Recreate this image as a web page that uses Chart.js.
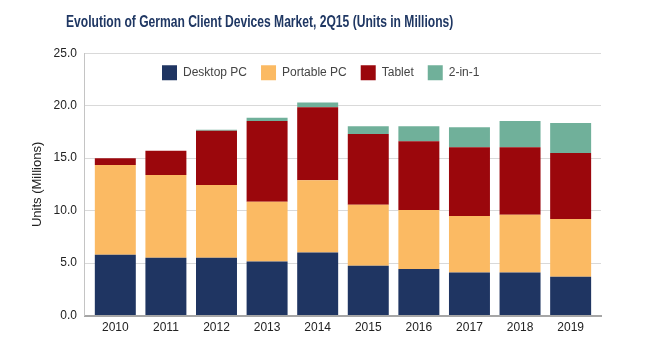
<!DOCTYPE html>
<html>
<head>
<meta charset="utf-8">
<script src="https://cdn.jsdelivr.net/npm/chart.js@4"></script>
<style>
  html, body { margin: 0; padding: 0; background: #fff; }
  #wrap { width: 651px; height: 340px; }
</style>
</head>
<body>
<div id="wrap"><canvas id="devicesChart"></canvas></div>
<script>
const years = ['2010', '2011', '2012', '2013', '2014', '2015', '2016', '2017', '2018', '2019'];
const desktopPC = [5.8, 5.5, 5.5, 5.15, 6.0, 4.75, 4.45, 4.1, 4.1, 3.7];
const portablePC = [8.55, 7.9, 6.95, 5.7, 6.9, 5.8, 5.6, 5.4, 5.5, 5.5];
const tablet = [0.65, 2.3, 5.15, 7.7, 6.95, 6.75, 6.55, 6.55, 6.45, 6.3];
const twoInOne = [0, 0, 0.1, 0.3, 0.45, 0.75, 1.45, 1.9, 2.5, 2.85];
const yTicks = [0, 5, 10, 15, 20, 25];

const fontFamily = '"Liberation Sans", Arial, sans-serif';

// the legend sits inside the plot in one row, the title is narrow and left of centre
const placeBlocks = {
  id: 'placeBlocks',
  afterInit(chart) {
    if (chart.legend) chart.legend.isHorizontal = () => true;
    const tb = chart.titleBlock;
    if (tb) {
      const draw = tb.draw.bind(tb);
      tb.draw = function () {
        const c = chart.ctx;
        c.save();
        c.translate(66, 0);
        c.scale(0.755, 1);
        c.translate(-66, 0);
        draw();
        c.restore();
      };
    }
  },
  afterLayout(chart) {
    if (chart.titleBlock) chart.titleBlock.left = 66;
    if (chart.legend) {
      chart.legend.left = 148;
      chart.legend.top = chart.chartArea.top - 2;
    }
  }
};

const ctx = document.getElementById('devicesChart').getContext('2d');
const chart = new Chart(ctx, {
  type: 'bar',
  data: {
    labels: years,
    datasets: [
      { label: 'Desktop PC', data: desktopPC, backgroundColor: '#1f3562' },
      { label: 'Portable PC', data: portablePC, backgroundColor: '#fbba63' },
      { label: 'Tablet', data: tablet, backgroundColor: '#9b070c' },
      { label: '2-in-1', data: twoInOne, backgroundColor: '#70b09a' }
    ]
  },
  options: {
    responsive: true,
    maintainAspectRatio: false,
    animation: false,
    layout: { padding: { left: 29, right: 50, top: 0, bottom: 0 } },
    datasets: {
      bar: { categoryPercentage: 0.81, barPercentage: 1, borderWidth: 0 }
    },
    plugins: {
      title: {
        display: true,
        text: 'Evolution of German Client Devices Market, 2Q15 (Units in Millions)',
        align: 'start',
        color: '#1f3763',
        font: { family: fontFamily, size: 16, weight: 'bold' },
        padding: { top: 13, bottom: 21 }
      },
      legend: {
        position: 'chartArea',
        align: 'start',
        labels: {
          boxWidth: 15,
          boxHeight: 15,
          padding: 14,
          color: '#444',
          font: { family: fontFamily, size: 12 }
        }
      },
      tooltip: { enabled: false }
    },
    scales: {
      x: {
        stacked: true,
        afterBuildTicks(scale) {
          scale._startValue = -0.6;
          scale._valueRange = years.length + 0.2;
        },
        grid: { display: false, drawTicks: false },
        border: { display: true, color: '#a6a6a6', width: 2 },
        ticks: { color: '#222', padding: 5, font: { family: fontFamily, size: 12 } }
      },
      y: {
        stacked: true,
        min: yTicks[0],
        max: yTicks[yTicks.length - 1],
        afterBuildTicks(scale) {
          scale.ticks = yTicks.map(v => ({ value: v }));
        },
        grid: { color: '#d9d9d9', lineWidth: 1, drawTicks: false },
        border: { display: true, color: '#c4c4c4', width: 1 },
        ticks: {
          color: '#222',
          padding: 8,
          font: { family: fontFamily, size: 12 },
          callback: v => Number(v).toFixed(1)
        },
        title: {
          display: true,
          text: 'Units (Millions)',
          color: '#222',
          font: { family: fontFamily, size: 13 },
          padding: { top: 1, bottom: 0 }
        }
      }
    }
  },
  plugins: [placeBlocks]
});
</script>
</body>
</html>
